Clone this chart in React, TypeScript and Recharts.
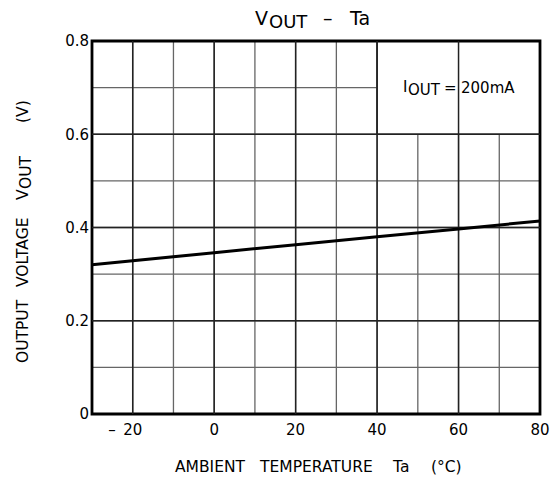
import React from 'react';
import {
    LineChart,
    Line,
    XAxis,
    YAxis,
    CartesianGrid,
    ReferenceArea,
    ReferenceLine,
} from 'recharts';

// values
const temps = [-30, 0, 20, 40, 60, 80];
const vout = [0.32, 0.346, 0.363, 0.38, 0.397, 0.414];

const xTicks = [-30, -20, -10, 0, 10, 20, 30, 40, 50, 60, 70, 80];
const yTicks = [0, 0.1, 0.2, 0.3, 0.4, 0.5, 0.6, 0.7, 0.8];
const xLabelled = [-20, 0, 20, 40, 60, 80];
const yLabelled = [0, 0.2, 0.4, 0.6, 0.8];

const chartData = temps.map((t, i) => ({ t, v: vout[i] }));

const FONT = '"DejaVu Sans", sans-serif';

const fmtY = (v: number) => {
    const r = Math.round(v * 10) / 10;
    if (!yLabelled.some((y) => Math.abs(y - r) < 1e-6)) return '';
    return r === 0 ? '0' : r.toFixed(1);
};

// x tick: number centred on the tick, minus sign hanging to the left
const XTick = (props: any) => {
    const { x, y, payload } = props;
    const v = payload.value as number;
    if (!xLabelled.includes(v)) return null;
    return (
        <g>
            <text x={x} y={y} dy={11} textAnchor="middle" fontSize={15} fontFamily={FONT} fill="#000">
                {Math.abs(v)}
            </text>
            {v < 0 && (
                <text x={x - 17} y={y} dy={11} textAnchor="end" fontSize={15} fontFamily={FONT} fill="#000">
                    –
                </text>
            )}
        </g>
    );
};

export default function App() {
    return (
        <div style={{ position: 'absolute', left: 0, top: 0, width: 559, height: 479, background: '#fff' }}>
            <LineChart
                width={559}
                height={479}
                data={chartData}
                margin={{ top: 41, right: 19, left: 52, bottom: 35 }}
            >
                <CartesianGrid stroke="#666" strokeWidth={1.3} />
                {xLabelled.slice(0, -1).map((x) => (
                    <ReferenceLine key={`x${x}`} x={x} stroke="#222" strokeWidth={1.5} />
                ))}
                {yLabelled.slice(1, -1).map((y) => (
                    <ReferenceLine key={`y${y}`} y={y} stroke="#222" strokeWidth={1.5} />
                ))}
                <XAxis
                    dataKey="t"
                    type="number"
                    domain={[-30, 80]}
                    ticks={xTicks}
                    interval={0}
                    tick={<XTick />}
                    axisLine={false}
                    tickLine={false}
                    tickSize={0}
                    tickMargin={10}
                    height={30}
                />
                <YAxis
                    type="number"
                    domain={[0, 0.8]}
                    ticks={yTicks}
                    interval={0}
                    tickFormatter={fmtY}
                    axisLine={false}
                    tickLine={false}
                    tickSize={0}
                    tickMargin={3}
                    width={40}
                    tick={{ fill: '#000', fontSize: 15, fontFamily: FONT }}
                />
                <ReferenceArea x1={40} x2={80} y1={0.6} y2={0.8} fill="#fff" fillOpacity={1} stroke="#222" strokeWidth={1.5} />
                <Line
                    dataKey="v"
                    type="linear"
                    stroke="#000"
                    strokeWidth={3}
                    dot={false}
                    isAnimationActive={false}
                />
                <ReferenceArea x1={-30} x2={80} y1={0} y2={0.8} fill="none" stroke="#000" strokeWidth={2.8} />
            </LineChart>
            <svg
                width={559}
                height={479}
                style={{ position: 'absolute', left: 0, top: 0, pointerEvents: 'none' }}
                fontFamily={FONT}
                fill="#000"
            >
                {/* title */}
                <text x={255} y={25} fontSize={19}>V</text>
                <text x={269} y={28} fontSize={18}>OUT</text>
                <text x={323} y={25} fontSize={19}>–</text>
                <text x={350} y={25} fontSize={19}>Ta</text>

                {/* condition box */}
                <text x={403} y={92} fontSize={15}>I</text>
                <text x={408} y={95} fontSize={15}>OUT</text>
                <text x={444} y={93} fontSize={15}>=</text>
                <text x={461} y={93} fontSize={15}>200mA</text>

                {/* x axis title */}
                <text x={175} y={472} fontSize={15.5}>AMBIENT</text>
                <text x={260} y={472} fontSize={15.5}>TEMPERATURE</text>
                <text x={393} y={472} fontSize={15.5}>Ta</text>
                <text x={431} y={472} fontSize={15.5}>(°C)</text>

                {/* y axis title */}
                <g transform="translate(28 0) rotate(-90)" fontSize={15.5}>
                    <text x={-363} y={0}>OUTPUT</text>
                    <text x={-287} y={0}>VOLTAGE</text>
                    <text x={-200} y={0}>V</text>
                    <text x={-189} y={3}>OUT</text>
                    <text x={-123} y={0}>(V)</text>
                </g>
            </svg>
        </div>
    );
}
